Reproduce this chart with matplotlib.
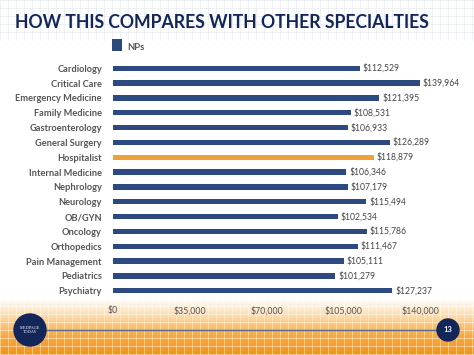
import matplotlib
matplotlib.use("Agg")
import matplotlib.pyplot as plt
import numpy as np
from matplotlib.patches import Circle
from matplotlib.colors import LinearSegmentedColormap

categories = ["Cardiology", "Critical Care", "Emergency Medicine", "Family Medicine",
              "Gastroenterology", "General Surgery", "Hospitalist", "Internal Medicine",
              "Nephrology", "Neurology", "OB/GYN", "Oncology", "Orthopedics",
              "Pain Management", "Pediatrics", "Psychiatry"]
np_salaries = [112529, 139964, 121395, 108531, 106933, 126289, 118879, 106346,
               107179, 115494, 102534, 115786, 111467, 105111, 101279, 127237]
highlight = "Hospitalist"
tick_values = [0, 35000, 70000, 105000, 140000]
tick_labels = ["$0", "$35,000", "$70,000", "$105,000", "$140,000"]
title = "HOW THIS COMPARES WITH OTHER SPECIALTIES"
series_name = "NPs"
page_number = "13"

NAVY = "#2c4a7f"
ORANGE = "#efa23c"
TITLE_C = "#13265a"
TEXT_C = "#555555"

W, H = 474, 355
fig = plt.figure(figsize=(W / 100, H / 100), dpi=100)
fig.patch.set_facecolor("white")

# decorative background
bg = fig.add_axes([0, 0, 1, 1], zorder=-5)
bg.set_xlim(0, W)
bg.set_ylim(H, 0)
bg.axis("off")
grad = np.linspace(0, 1, 100)[:, None]
cmap = LinearSegmentedColormap.from_list("og", ["#ffffff", "#fcd9a8", "#f5aa48", "#f0941f"])
bg.imshow(grad, extent=[0, W, H, 298], aspect="auto", cmap=cmap, zorder=0)
for gx in np.arange(0, W, 8):
    bg.plot([gx, gx], [0, 40], color="#e6eaf2", lw=0.5, zorder=1)
    bg.plot([gx, gx], [298, H], color="#ffffff", lw=0.6, alpha=0.5, zorder=1)
for gy in np.arange(0, 40, 8):
    bg.plot([0, W], [gy, gy], color="#e6eaf2", lw=0.5, zorder=1)
for gy in np.arange(298, H, 8):
    bg.plot([0, W], [gy, gy], color="#ffffff", lw=0.6, alpha=0.5, zorder=1)
bg.plot([30, 448], [330, 330], color="#5a6a8e", lw=1.0, zorder=2)
bg.add_patch(Circle((30, 330), 16, color=TITLE_C, zorder=3))
bg.text(30, 330, "MEDPAGE\nTODAY", color="white", ha="center", va="center",
        fontsize=3.2, family="Liberation Serif", linespacing=0.9, zorder=4)
bg.add_patch(Circle((448, 330), 11, color=TITLE_C, zorder=3))
bg.text(448, 330, page_number, color="white", ha="center", va="center",
        fontsize=5.5, family="Lato", fontweight="bold", zorder=4)

fig.text(15 / W, 1 - 28 / H, title, fontsize=12.7, fontweight="bold",
         family="Lato", color=TITLE_C, ha="left", va="baseline")

ax = fig.add_axes([113 / W, 1 - 298.1 / H, 327 / W, 237.2 / H])
ax.set_facecolor("none")
y = np.arange(len(categories))
colors = [ORANGE if c == highlight else NAVY for c in categories]
bars = ax.barh(y, np_salaries, height=0.36, color=colors, label=series_name)
ax.set_xlim(0, 149000)
ax.set_ylim(len(categories) - 0.5, -0.5)
ax.set_yticks(y)
ax.set_yticklabels(categories, fontsize=6.7, fontweight="bold", family="Lato", color=TEXT_C)
ax.set_xticks(tick_values)
ax.set_xticklabels(tick_labels, fontsize=6.3, family="Lato", color=TEXT_C)
ax.tick_params(length=0, axis="y", pad=8)
ax.tick_params(length=0, axis="x", pad=6)
for s in ax.spines.values():
    s.set_visible(False)
for yi, v in zip(y, np_salaries):
    ax.annotate(f"${v:,}", (v, yi), xytext=(2, 0), textcoords="offset points",
                ha="left", va="center", fontsize=6.2, family="Lato", color="#444444")

h = [bars.patches[0]]
leg = fig.legend(h, [series_name], loc="upper left", bbox_to_anchor=(112 / W, 1 - 43 / H),
                 frameon=False, handlelength=1.05, handleheight=1.0,
                 handletextpad=0.6, borderpad=0, borderaxespad=0,
                 prop={"family": "Lato", "weight": "bold", "size": 6.8})
for t in leg.get_texts():
    t.set_color(TEXT_C)
leg.legend_handles[0].set_height(9)
leg.legend_handles[0].set_facecolor(NAVY)

fig.savefig("out.png", dpi=100)
